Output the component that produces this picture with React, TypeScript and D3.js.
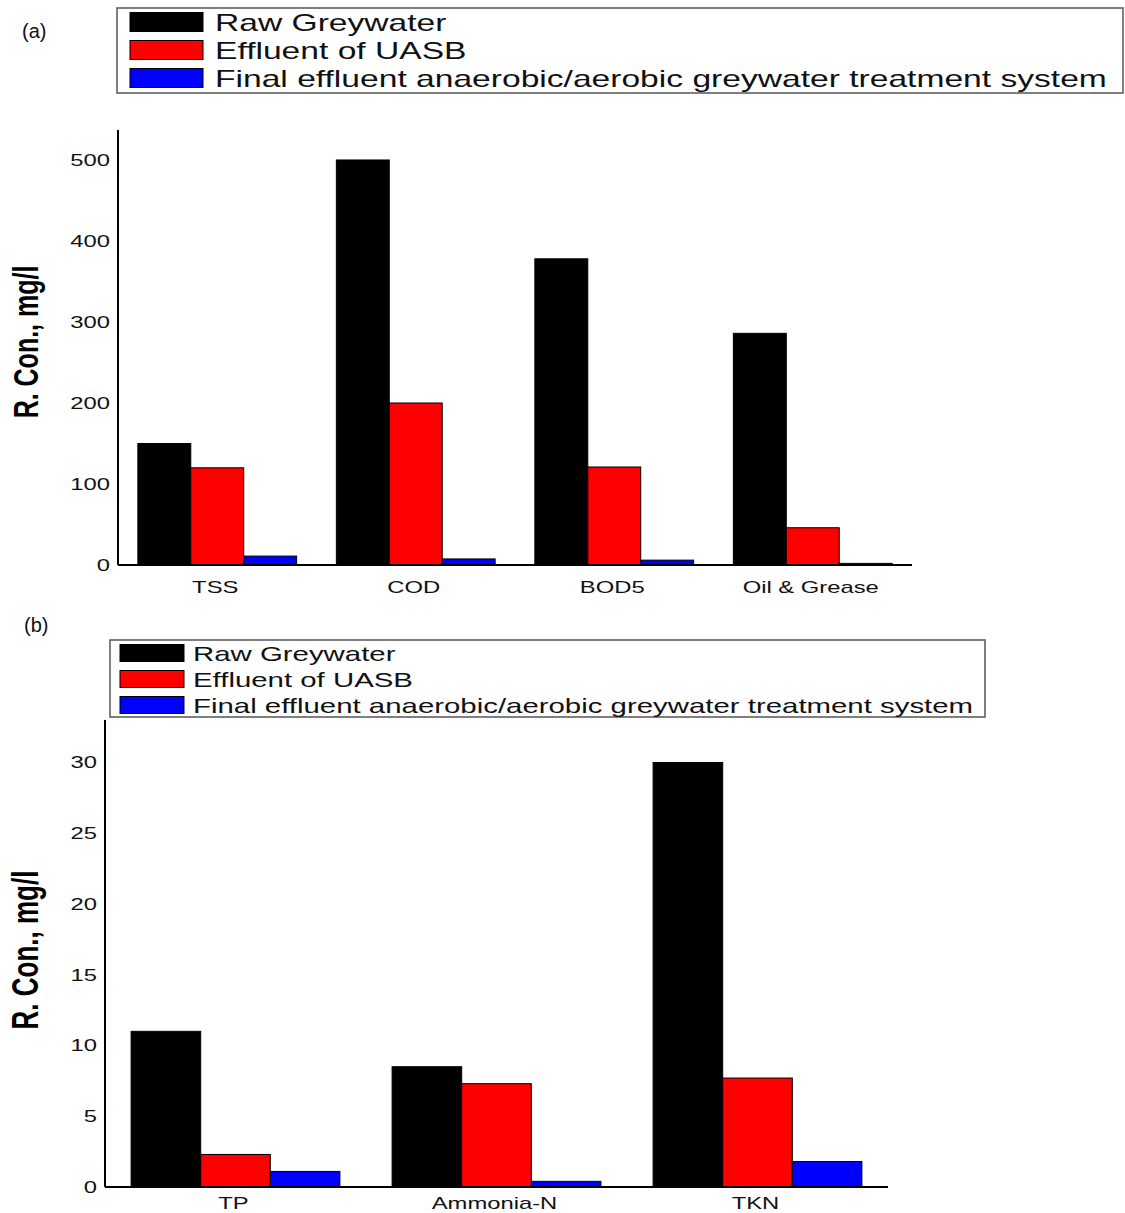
import * as d3 from "d3";

// ---- data ----
const seriesNames = [
  "Raw Greywater",
  "Effluent of UASB",
  "Final effluent anaerobic/aerobic greywater treatment system",
];
const seriesColors = ["#000000", "#ff0000", "#0000ff"];

const catsA = ["TSS", "COD", "BOD5", "Oil & Grease"];
const rawA = [150, 500, 378, 286];
const uasbA = [120, 200, 121, 46];
const finalA = [11, 7.5, 6, 2];
const ticksA = [0, 100, 200, 300, 400, 500];

const catsB = ["TP", "Ammonia-N", "TKN"];
const rawB = [11, 8.5, 30];
const uasbB = [2.3, 7.3, 7.7];
const finalB = [1.1, 0.4, 1.8];
const ticksB = [0, 5, 10, 15, 20, 25, 30];

const FONT = "'Liberation Sans', Arial, Helvetica, sans-serif";
const SX = 1.4; // the original figure is stretched horizontally

function SText({ x, y, size, anchor = "start", children, weight = "normal", sx = SX }: any) {
  return (
    <text
      transform={`translate(${x},${y}) scale(${sx},1)`}
      fontSize={size}
      fontFamily={FONT}
      fontWeight={weight}
      textAnchor={anchor}
      fill="#111"
    >
      {children}
    </text>
  );
}

function Legend({ x, y, w, h, swX, swW, swH, rows, textX, size }: any) {
  return (
    <g>
      <rect x={x} y={y} width={w} height={h} fill="white" stroke="#555" strokeWidth={1.5} />
      {seriesNames.map((name, i) => (
        <g key={name}>
          <rect
            x={swX}
            y={rows[i] - swH / 2}
            width={swW}
            height={swH}
            fill={seriesColors[i]}
            stroke="#000"
            strokeWidth={1}
          />
          <SText x={textX} y={rows[i] + size * 0.36} size={size}>
            {name}
          </SText>
        </g>
      ))}
    </g>
  );
}

function Panel({ cats, series, ticks, yMax, left, right, top, bottom, labelY, catBaseline, ylabelCenter, ylabelSize }: any) {
  const x0 = d3.scaleBand<string>().domain(cats).range([left, right]).paddingInner(0.2).paddingOuter(0.1);
  const x1 = d3.scaleBand<number>().domain([0, 1, 2]).range([0, x0.bandwidth()]);
  const y = d3.scaleLinear().domain([0, yMax]).range([bottom, top]);

  return (
    <g>
      {cats.map((c: string, ci: number) => (
        <g key={c} transform={`translate(${x0(c)},0)`}>
          {series.map((s: number[], si: number) => (
            <rect
              key={si}
              x={x1(si)}
              y={y(s[ci])}
              width={x1.bandwidth()}
              height={y(0) - y(s[ci])}
              fill={seriesColors[si]}
              stroke="#000"
              strokeWidth={1}
            />
          ))}
          <SText x={x0.bandwidth() / 2 - 2} y={catBaseline} size={17} anchor="middle">
            {c}
          </SText>
        </g>
      ))}
      <line x1={left} x2={left} y1={top} y2={bottom} stroke="#000" strokeWidth={2} />
      <line x1={left} x2={right} y1={bottom} y2={bottom} stroke="#000" strokeWidth={2} />
      {ticks.map((t: number) => (
        <SText key={t} x={left - 8} y={y(t) + 6} size={17} anchor="end">
          {t}
        </SText>
      ))}
      <text
        transform={`translate(${labelY},${ylabelCenter}) rotate(-90) scale(1,${SX})`}
        fontSize={ylabelSize}
        fontFamily={FONT}
        fontWeight="bold"
        textAnchor="middle"
        fill="#000"
      >
        R. Con., mg/l
      </text>
    </g>
  );
}

export default function App() {
  return (
    <svg
      width={1125}
      height={1213}
      style={{ position: "absolute", left: 0, top: 0, background: "white" }}
    >
      <rect width={1125} height={1213} fill="white" />
      <SText x={22} y={38} size={20} sx={1}>(a)</SText>
      <Legend x={117} y={8} w={1006} h={85} swX={130} swW={73} swH={19} rows={[22, 50, 78]} textX={215} size={24} />
      <Panel
        cats={catsA}
        series={[rawA, uasbA, finalA]}
        ticks={ticksA}
        yMax={537}
        left={118}
        right={912}
        top={130}
        bottom={565}
        labelY={38}
        catBaseline={593}
        ylabelCenter={342}
        ylabelSize={25}
      />
      <SText x={24} y={632} size={20} sx={1}>(b)</SText>
      <Legend x={110} y={640} w={875} h={77} swX={120} swW={64} swH={17} rows={[653, 679, 705]} textX={193} size={21} />
      <Panel
        cats={catsB}
        series={[rawB, uasbB, finalB]}
        ticks={ticksB}
        yMax={33}
        left={105}
        right={888}
        top={720}
        bottom={1187}
        labelY={38}
        catBaseline={1209}
        ylabelCenter={950}
        ylabelSize={26}
      />
    </svg>
  );
}
